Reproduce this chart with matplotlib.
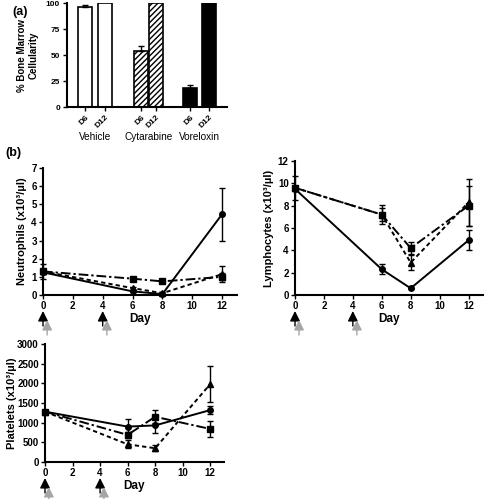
import numpy as np
import matplotlib
matplotlib.use("Agg")
import matplotlib.pyplot as plt

plt.rcParams['font.family'] = ['Liberation Sans', 'DejaVu Sans']
plt.rcParams['font.weight'] = 'bold'

# (a) bone marrow cellularity
groups = ['Vehicle', 'Cytarabine', 'Voreloxin']
bar_labels = ['D6', 'D12', 'D6', 'D12', 'D6', 'D12']
cellularity = [96, 100, 54, 100, 18, 100]
cell_err = [2, 0, 5, 0, 3.5, 0]

# (b) blood counts
days = [0, 6, 8, 12]
neut_solid = [1.25, 0.2, 0.05, 4.45]
neut_solid_err = [0.1, 0.05, 0.02, 1.47]
neut_dash = [1.3, 0.38, 0.1, 1.15]
neut_dash_err = [0.4, 0.08, 0.05, 0.45]
neut_dd = [1.3, 0.9, 0.75, 1.0]
neut_dd_err = [0.15, 0.05, 0.05, 0.2]

lymph_solid = [9.5, 2.3, 0.6, 4.9]
lymph_solid_err = [0.1, 0.45, 0.05, 0.9]
lymph_dash = [9.6, 7.2, 2.9, 8.3]
lymph_dash_err = [0.2, 0.6, 0.7, 2.1]
lymph_dd = [9.6, 7.2, 4.2, 8.0]
lymph_dd_err = [1.1, 0.85, 0.55, 1.8]

plt_solid = [1280, 900, 930, 1320]
plt_solid_err = [30, 200, 180, 100]
plt_dash = [1280, 450, 350, 1980]
plt_dash_err = [30, 100, 80, 450]
plt_dd = [1280, 690, 1150, 840]
plt_dd_err = [30, 80, 170, 200]

dose_days = [0, 4]

fig = plt.figure(figsize=(4.84, 4.99), dpi=100)


def px(l, t, r, b):
    W, H = 484, 499
    return [l / W, 1 - b / H, (r - l) / W, (b - t) / H]


def style(ax, size, pad=2):
    for s in ['top', 'right']:
        ax.spines[s].set_visible(False)
    for s in ['left', 'bottom']:
        ax.spines[s].set_linewidth(1.5)
    ax.tick_params(direction='out', length=3, width=1, labelsize=size, pad=pad)
    for lab in ax.get_xticklabels() + ax.get_yticklabels():
        lab.set_fontweight('bold')


# ---- panel a ----
axa = fig.add_axes(px(67, 3, 227, 107))
pos = [0.9, 1.9, 3.7, 4.45, 6.15, 7.1]
faces = ['white', 'white', 'white', 'white', 'black', 'black']
hatches = [None, None, '//////', '//////', None, None]
for i in range(6):
    axa.bar(pos[i], cellularity[i], width=0.68, color=faces[i], edgecolor='black',
            hatch=hatches[i], linewidth=1.2, zorder=2)
    if cell_err[i] > 0:
        axa.errorbar(pos[i], cellularity[i], yerr=[[0], [cell_err[i]]], fmt='none',
                     ecolor='black', elinewidth=1, capsize=2.5, capthick=1, zorder=3)
axa.set_xlim(0, 8)
axa.set_ylim(0, 100)
axa.set_yticks([0, 25, 50, 75, 100])
axa.set_xticks(pos)
axa.set_xticklabels(bar_labels, rotation=45, ha='right', rotation_mode='anchor')
axa.set_ylabel('% Bone Marrow\nCellularity', fontsize=7, fontweight='bold', labelpad=5)
style(axa, 6)
for g, x in zip(groups, [1.4, 4.07, 6.62]):
    axa.text(x, -0.29, g, transform=axa.get_xaxis_transform(), ha='center', va='center',
             fontsize=7.2, fontweight='normal')
fig.text(12 / 484, 1 - 12 / 499, '(a)', fontsize=9, fontweight='bold', va='center')
fig.text(5 / 484, 1 - 153 / 499, '(b)', fontsize=9, fontweight='bold', va='center')

dash_style = (0, (2.2, 1.6))
dd_style = (0, (5, 1.5, 1.2, 1.5))


def line_panel(ax, ylim, yticks, ylabel, data, lpad):
    for y, e, ls, mk in data:
        ax.errorbar(days, y, yerr=e, color='black', linestyle=ls, linewidth=1.4,
                    marker=mk, markersize=4, elinewidth=1, capsize=2.5, capthick=1,
                    clip_on=False, zorder=3)
    ax.set_xlim(0, 13)
    ax.set_ylim(*ylim)
    ax.set_xticks([0, 2, 4, 6, 8, 10, 12])
    ax.set_yticks(yticks)
    ax.set_xlabel('Day', fontsize=8.5, fontweight='bold', labelpad=1)
    ax.set_ylabel(ylabel, fontsize=8, fontweight='bold', labelpad=lpad)
    style(ax, 7, 1.5)
    h = ax.get_position().height * fig.get_figheight() * fig.dpi
    for d in dose_days:
        ax.annotate('', xy=(d, -16 / h), xytext=(d, -31 / h),
                    xycoords=('data', 'axes fraction'),
                    arrowprops=dict(arrowstyle='-|>,head_length=0.6,head_width=0.3',
                                    color='black', lw=1, mutation_scale=10,
                                    shrinkA=0, shrinkB=0), annotation_clip=False)
        ax.annotate('', xy=(d + 0.28, -25 / h), xytext=(d + 0.28, -40 / h),
                    xycoords=('data', 'axes fraction'),
                    arrowprops=dict(arrowstyle='-|>,head_length=0.6,head_width=0.3',
                                    color='#a6a6a6', lw=1, mutation_scale=10,
                                    shrinkA=0, shrinkB=0), annotation_clip=False)


axn = fig.add_axes(px(43, 168, 237, 295))
line_panel(axn, (0, 7), range(0, 8), 'Neutrophils (x10³/µl)',
           [(neut_solid, neut_solid_err, '-', 'o'),
            (neut_dash, neut_dash_err, dash_style, '^'),
            (neut_dd, neut_dd_err, dd_style, 's')], 3)

axl = fig.add_axes(px(295, 161, 483, 295))
line_panel(axl, (0, 12), range(0, 13, 2), 'Lymphocytes (x10³/µl)',
           [(lymph_solid, lymph_solid_err, '-', 'o'),
            (lymph_dash, lymph_dash_err, dash_style, '^'),
            (lymph_dd, lymph_dd_err, dd_style, 's')], 3)

axp = fig.add_axes(px(45, 344, 224, 462))
line_panel(axp, (0, 3000), range(0, 3001, 500), 'Platelets (x10³/µl)',
           [(plt_solid, plt_solid_err, '-', 'o'),
            (plt_dash, plt_dash_err, dash_style, '^'),
            (plt_dd, plt_dd_err, dd_style, 's')], 0)

fig.savefig('out.png', dpi=100)
